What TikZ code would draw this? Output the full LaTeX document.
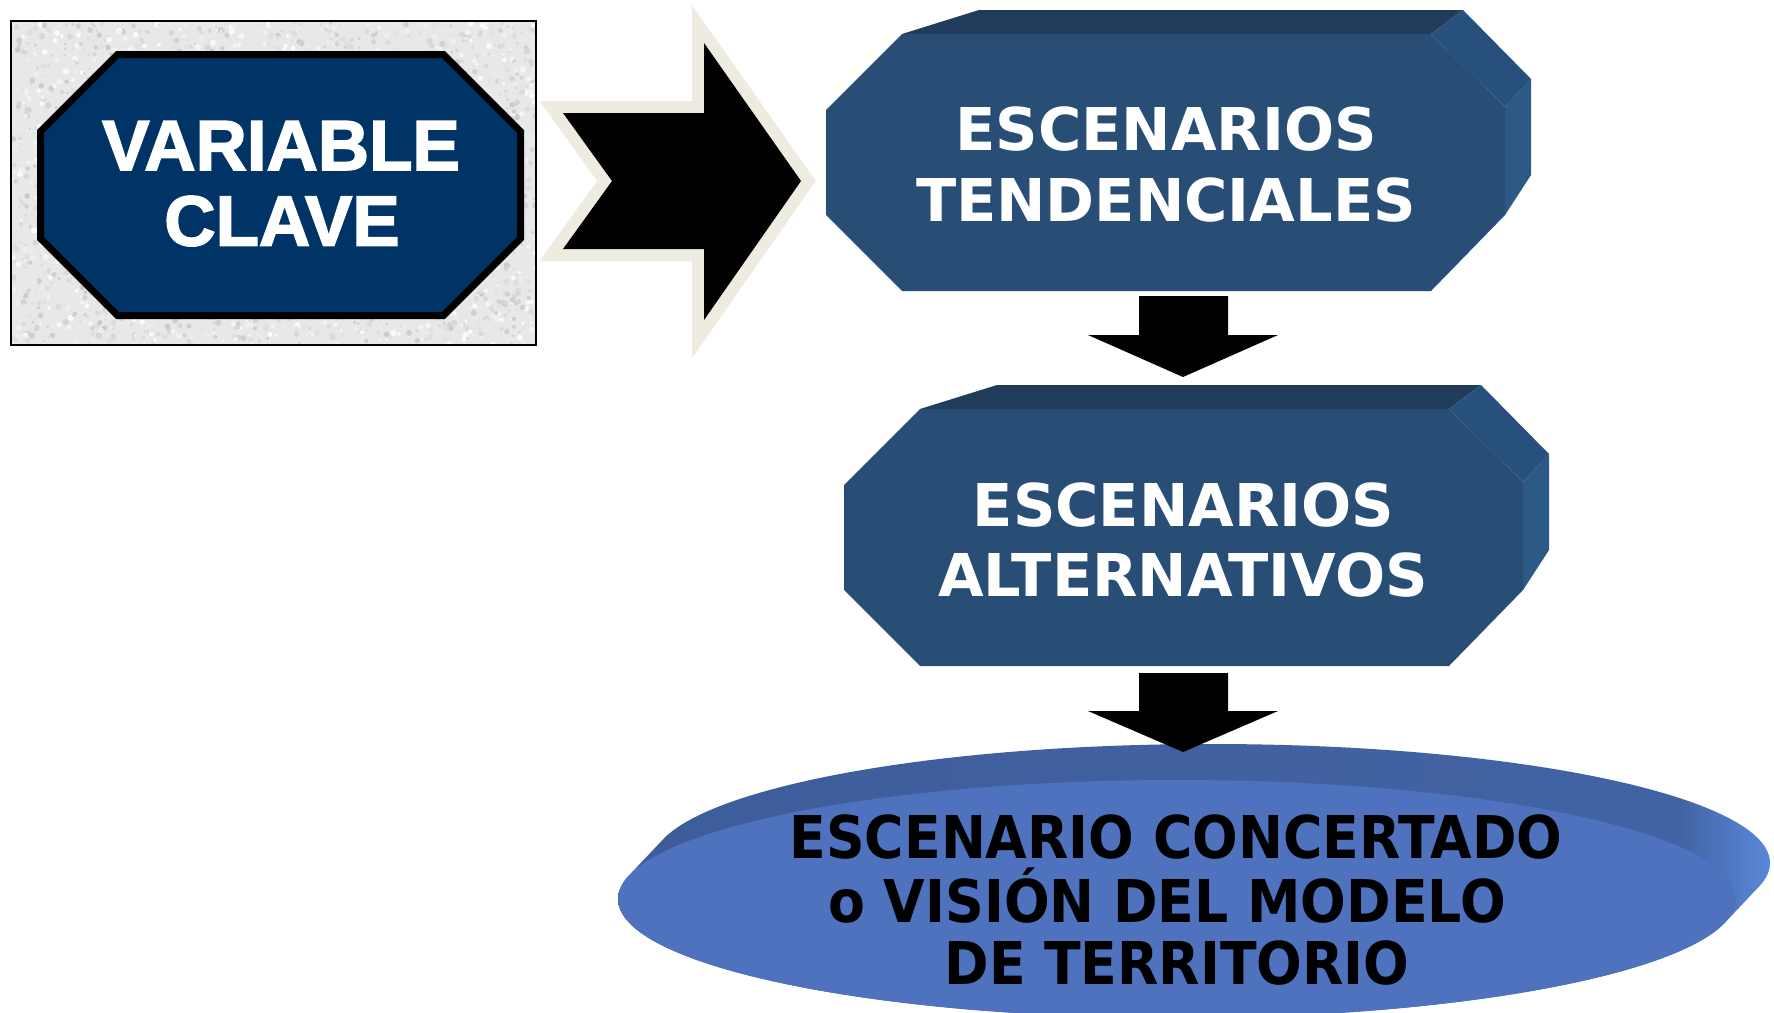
\documentclass[tikz,border=0pt]{standalone}
\usepackage{fontspec}
\newfontfamily\vcfont[FakeBold=2.2]{Liberation Sans}
\newfontfamily\boxfont{DejaVu Sans}
\newfontfamily\ellfont[FakeStretch=0.91]{DejaVu Sans}
\definecolor{vcnavy}{RGB}{0,51,102}
\definecolor{arrbeige}{RGB}{238,236,225}
\definecolor{boxfront}{RGB}{41,78,118}
\definecolor{boxtop}{RGB}{33,59,91}
\definecolor{boxcham}{RGB}{40,80,124}
\definecolor{boxside}{RGB}{45,89,135}
\definecolor{ellfront}{RGB}{78,114,190}
\definecolor{rimL}{RGB}{62,92,154}
\definecolor{rimM}{RGB}{66,99,163}
\definecolor{rimR}{RGB}{90,136,216}
\definecolor{texbase}{RGB}{232,232,231}
\pgfdeclarehorizontalshading{rimshade}{100bp}{color(0bp)=(rimL); color(25bp)=(rimL); color(65bp)=(rimM); color(71bp)=(rimM); color(75bp)=(rimR); color(100bp)=(rimR)}
\tikzset{
  vctext/.style={font=\vcfont\bfseries\fontsize{71}{75}\selectfont, text=white, inner sep=0pt, anchor=base},
  boxtext/.style={font=\boxfont\bfseries\fontsize{59}{63}\selectfont, text=white, inner sep=0pt, anchor=base},
  elltext/.style={font=\ellfont\bfseries\fontsize{59}{63}\selectfont, text=black, inner sep=0pt, anchor=base},
  blockarrow/.style={fill=black},
  escbox/.pic={
    \fill[boxtop] (902,34)--(979,10)--(1463,10)--(1431,34)--cycle;
    \fill[boxcham] (1431,34)--(1463,10)--(1531,79)--(1505,107)--cycle;
    \fill[boxside] (1505,107)--(1531,79)--(1531,175)--(1505,215)--cycle;
    \fill[boxfront] (826,110)--(902,34)--(1431,34)--(1505,107)--(1505,215)--(1431,291)--(902,291)--(826,215)--cycle;
  }
}
\begin{document}
\begin{tikzpicture}[x=1pt,y=-1pt]
\useasboundingbox (0,0) rectangle (1774,1012);
\fill[white] (0,0) rectangle (1774,1012);
\begin{scope}
\clip (0,0) rectangle (1774,1012);

% textured panel
\begin{scope}
\clip (11,21) rectangle (536,345);
\fill[texbase] (11,21) rectangle (536,345);
\pgfmathsetseed{12}
\foreach \i in {1,...,3500}{
  \pgfmathsetmacro\xx{11+525*rnd}
  \pgfmathsetmacro\yy{21+324*rnd}
  \pgfmathtruncatemacro\ww{80+20*rnd}
  \pgfmathsetmacro\rr{1+2.2*rnd}
  \fill[white!\ww!black] (\xx,\yy) circle[radius=\rr pt];
}
\end{scope}
\draw[black, line width=1.5] (11,21) rectangle (536,345);

% octagon VARIABLE CLAVE
\filldraw[fill=vcnavy, draw=black, line width=7, line join=miter]
  (117.5,54.5)--(443.5,54.5)--(520.5,131.5)--(520.5,238.5)--(443.5,315.5)--(117.5,315.5)--(40.5,238.5)--(40.5,131.5)--cycle;
\node[vctext] (vc1) at (281,170) {VARIABLE};
\node[vctext] (vc2) at (282,245.5) {CLAVE};

% big right arrow
\path[preaction={draw=arrbeige, line width=24, line join=miter}, blockarrow]
  (563,113)--(704,113)--(704,43)--(801,181)--(704,320)--(704,249)--(563,249)--(612,181)--cycle;

% box 1
\pic at (0,0) {escbox};
\node[boxtext] (t1) at (1166,150) {ESCENARIOS};
\node[boxtext] (t2) at (1166,221) {TENDENCIALES};

% arrow 1
\fill[blockarrow] (1139,296)--(1228,296)--(1228,335)--(1278,335)--(1183,377)--(1088,335)--(1139,335)--cycle;

% box 2
\pic at (18,375) {escbox};
\node[boxtext] (a1) at (1183.5,526) {ESCENARIOS};
\node[boxtext] (a2) at (1183,596) {ALTERNATIVOS};

% ellipse disc
\path[shading=rimshade]
  \foreach \t in {0,...,12} { ({1177+34*\t/12},{899-36*\t/12}) ellipse [x radius=559, y radius=119] };
\fill[ellfront] (1177,899) ellipse [x radius=559, y radius=119];
\node[elltext] (e1) at (1176,858) {ESCENARIO CONCERTADO};
\node[elltext] (e2) at (1167,922) {o VISIÓN DEL MODELO};
\node[elltext] (e3) at (1177,984) {DE TERRITORIO};

% arrow 2
\fill[blockarrow] (1139,673)--(1228,673)--(1228,711)--(1278,711)--(1183,752)--(1088,711)--(1139,711)--cycle;
\end{scope}
\end{tikzpicture}
\end{document}
